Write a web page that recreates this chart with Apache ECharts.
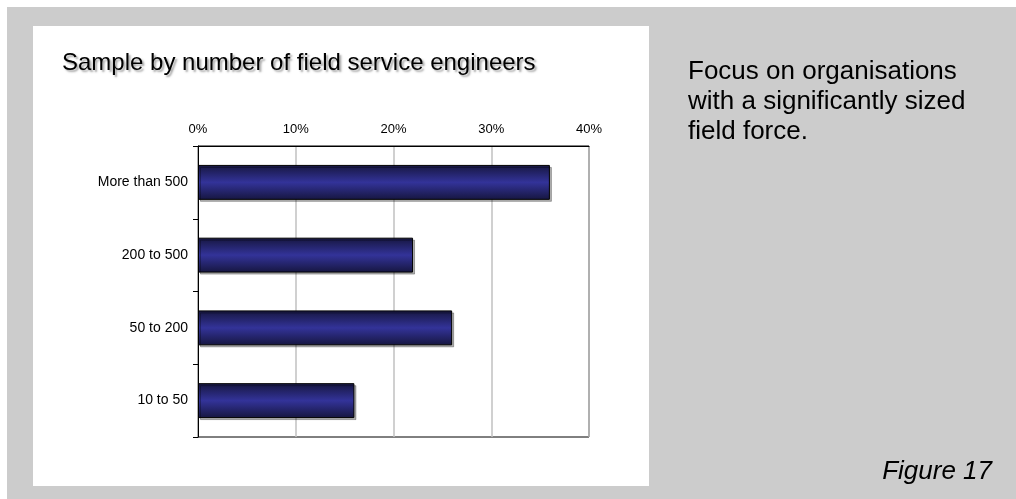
<!DOCTYPE html>
<html>
<head>
<meta charset="utf-8">
<script src="https://cdn.jsdelivr.net/npm/echarts@6/dist/echarts.min.js"></script>
<style>
html,body{margin:0;padding:0;background:#ffffff;}
#chart{width:1016px;height:499px;}
</style>
</head>
<body>
<div id="chart"></div>
<script>
const categories = ['More than 500', '200 to 500', '50 to 200', '10 to 50'];
const values = [36, 22, 26, 16];
const tickLabels = ['0%', '10%', '20%', '30%', '40%'];
const titleText = 'Sample by number of field service engineers';
const noteLines = ['Focus on organisations', 'with a significantly sized', 'field force.'];
const figureLabel = 'Figure 17';

const chart = echarts.init(document.getElementById('chart'), null, {renderer: 'canvas'});
const font = 'Arial, "Liberation Sans", sans-serif';
chart.setOption({
  animation: false,
  backgroundColor: '#ffffff',
  graphic: [
    {type: 'rect', z: -10, shape: {x: 7, y: 7, width: 1009, height: 492}, style: {fill: '#cccccc'}, silent: true},
    {type: 'rect', z: -9, shape: {x: 33, y: 26, width: 616, height: 460}, style: {fill: '#ffffff'}, silent: true},
    {type: 'text', left: 688, top: 57, style: {text: noteLines.join('\n'), font: '26px ' + font, fill: '#000000', lineHeight: 30}},
    {type: 'text', right: 24, top: 457, style: {text: figureLabel, font: 'italic 26px ' + font, fill: '#000000', lineHeight: 30}}
  ],
  title: {
    text: titleText,
    left: 62, top: 51, padding: 0,
    textStyle: {fontFamily: font, fontSize: 24, fontWeight: 'normal', color: '#000000',
      textShadowColor: 'rgba(0,0,0,0.35)', textShadowBlur: 2, textShadowOffsetX: 2, textShadowOffsetY: 2}
  },
  grid: {left: 198, top: 146, right: 427, bottom: 62, show: true, borderColor: '#000000', borderWidth: 1, backgroundColor: 'transparent'},
  xAxis: {
    type: 'value', position: 'top', min: 0, max: 40, interval: 10,
    axisLine: {show: true, lineStyle: {color: '#000000', width: 1}},
    axisTick: {show: false},
    splitLine: {show: true, lineStyle: {color: '#c0c0c0', width: 1.5}},
    axisLabel: {formatter: (v) => tickLabels[v / 10], fontFamily: font, fontSize: 13, color: '#000000', margin: 10}
  },
  yAxis: {
    type: 'category', data: categories, inverse: true,
    axisLine: {show: true, lineStyle: {color: '#000000', width: 1}},
    axisTick: {show: true, inside: false, length: 5, alignWithLabel: false, lineStyle: {color: '#000000'}},
    axisLabel: {fontFamily: font, fontSize: 14, color: '#000000', margin: 10}
  },
  series: [{
    type: 'bar', data: values, barWidth: '48%',
    itemStyle: {
      borderColor: '#000000', borderWidth: 1,
      shadowColor: 'rgba(0,0,0,0.3)', shadowOffsetX: 2, shadowOffsetY: 2,
      color: new echarts.graphic.LinearGradient(0, 0, 0, 1, [
        {offset: 0, color: '#16163f'},
        {offset: 0.5, color: '#333399'},
        {offset: 1, color: '#16163f'}
      ])
    }
  }]
});
</script>
</body>
</html>
